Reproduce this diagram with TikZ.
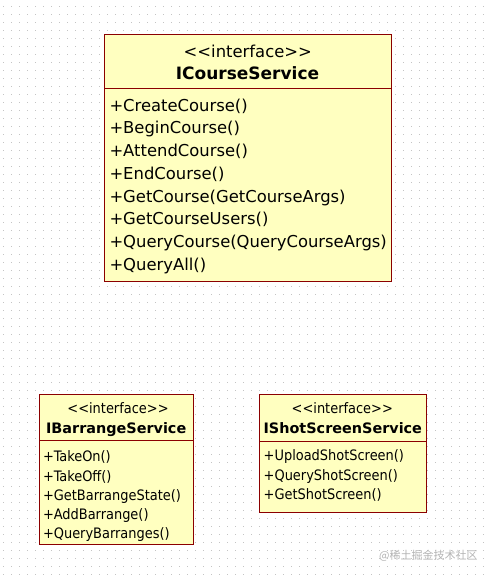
\documentclass[tikz,border=0pt]{standalone}
\usepackage{fontspec}
\setmainfont{DejaVu Sans Condensed}
\newfontfamily\widefont{DejaVu Sans}
\newfontfamily\cjkfont{Noto Sans CJK SC}
\definecolor{boxfill}{HTML}{FFFFC0}
\definecolor{boxline}{HTML}{8B0000}
\definecolor{dotc}{HTML}{C4C4C4}
\definecolor{wmark}{HTML}{B4B4B4}
\tikzset{
  classbox/.style={draw=boxline, fill=boxfill, line width=0.9pt, inner sep=0pt, anchor=north west},
  sepline/.style={draw=boxline, line width=0.9pt},
  bigtxt/.style={inner sep=0pt, font=\widefont\fontsize{16.4}{20}\selectfont},
  bigtitle/.style={inner sep=0pt, font=\widefont\fontsize{17}{20}\selectfont\bfseries},
  smalltxt/.style={inner sep=0pt, font=\fontsize{14.4}{17}\selectfont},
  smalltitle/.style={inner sep=0pt, font=\widefont\fontsize{14.4}{17}\selectfont\bfseries},
}
\newcommand{\stereo}{{<}{<}interface{>}{>}}
\begin{document}
\begin{tikzpicture}[x=1pt,y=-1pt]
\useasboundingbox (0,0) rectangle (486,578);
\fill[white] (0,0) rectangle (486,578);
\foreach \i in {0,...,60}{
  \foreach \j in {0,...,71}{
    \fill[dotc] (3+8*\i,6+8*\j) rectangle ++(1,1);
  }
}
% ICourseService
\node[classbox, minimum width=286.7pt, minimum height=246.7pt] (c1) at (104,34) {};
\coordinate (c1l) at (104,88.3);
\coordinate (c1r) at (390.7,88.3);
\draw[sepline] (c1l) -- (c1r);
\node[bigtxt, anchor=base] (c1s) at (247.8,57) {\stereo};
\node[bigtitle, anchor=base] (c1n) at (247.5,79.3) {ICourseService};
\foreach \t [count=\i from 0] in {+CreateCourse(),+BeginCourse(),+AttendCourse(),+EndCourse(),+GetCourse(GetCourseArgs),+GetCourseUsers(),+QueryCourse(QueryCourseArgs),+QueryAll()}{
  \node[bigtxt, anchor=base west] (c1m\i) at (109.3,111+22.75*\i) {\t};
}
% IBarrangeService
\node[classbox, minimum width=154.3pt, minimum height=150pt] (c2) at (39,394) {};
\coordinate (c2l) at (39,440);
\coordinate (c2r) at (193.3,440);
\draw[sepline] (c2l) -- (c2r);
\node[smalltxt, anchor=base] (c2s) at (118,413) {\stereo};
\node[smalltitle, anchor=base] (c2n) at (116.2,433.3) {IBarrangeService};
\foreach \t [count=\i from 0] in {+TakeOn(),+TakeOff(),+GetBarrangeState(),+AddBarrange(),+QueryBarranges()}{
  \node[smalltxt, anchor=base west] (c2m\i) at (42.8,461.7+19.3*\i) {\t};
}
% IShotScreenService
\node[classbox, minimum width=166.7pt, minimum height=117.7pt] (c3) at (259,394) {};
\coordinate (c3l) at (259,441);
\coordinate (c3r) at (425.7,441);
\draw[sepline] (c3l) -- (c3r);
\node[smalltxt, anchor=base] (c3s) at (342.3,413) {\stereo};
\node[smalltitle, anchor=base] (c3n) at (342.8,433.3) {IShotScreenService};
\foreach \t [count=\i from 0] in {+UploadShotScreen(),+QueryShotScreen(),+GetShotScreen()}{
  \node[smalltxt, anchor=base west] (c3m\i) at (263.5,460.7+19.3*\i) {\t};
}
% watermark
\node[inner sep=0pt, anchor=west, text=wmark, font=\cjkfont\fontsize{11}{13}\selectfont] (wm) at (379,555.7) {@稀土掘金技术社区};
\end{tikzpicture}
\end{document}
